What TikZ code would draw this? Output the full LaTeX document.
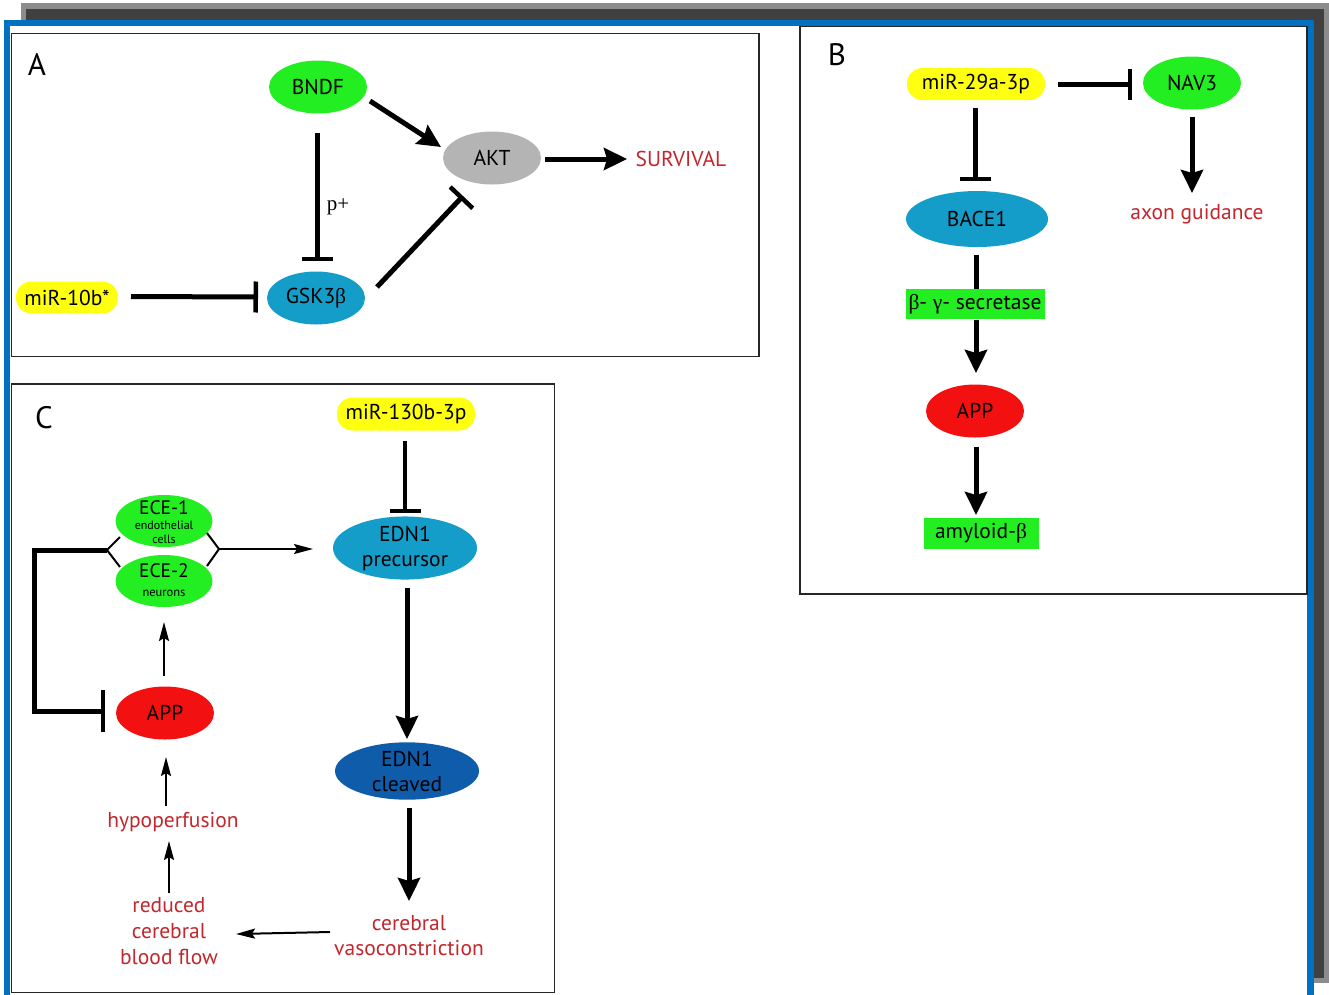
\documentclass[tikz,border=0pt]{standalone}
\usepackage{fontspec}
\setmainfont{PT Sans}
\newfontfamily\seriffont{Liberation Serif}
\newcommand{\gk}[1]{{\seriffont #1}}
\usetikzlibrary{shapes.geometric,arrows.meta}
\definecolor{frameblue}{HTML}{0070C0}
\definecolor{shadowdark}{HTML}{404040}
\definecolor{shadowlight}{HTML}{8C8C8C}
\definecolor{nodegreen}{HTML}{22EE22}
\definecolor{nodeyellow}{HTML}{FFFF10}
\definecolor{nodecyan}{HTML}{159DC9}
\definecolor{nodedarkblue}{HTML}{0E5CAA}
\definecolor{nodegray}{HTML}{B4B4B4}
\definecolor{nodered}{HTML}{F21010}
\definecolor{textred}{HTML}{C1272D}
\begin{document}
\begin{tikzpicture}[x=1pt,y=-1pt,
  ell/.style={ellipse, inner sep=0pt, minimum width=98, minimum height=53, font=\fontsize{21.5}{23}\selectfont},
  pill/.style={rectangle, rounded corners=15.5, fill=nodeyellow, inner sep=0pt, minimum height=32, font=\fontsize{21.5}{23}\selectfont},
  gbox/.style={rectangle, fill=nodegreen, inner sep=0pt, minimum height=31, font=\fontsize{21.5}{23}\selectfont},
  redtext/.style={text=textred, font=\fontsize{21.5}{25}\selectfont, align=center, inner sep=0pt},
  panel/.style={draw=black!85, line width=1.6},
  plabel/.style={font=\fontsize{31}{31}\selectfont, inner sep=0pt},
  thickarrow/.style={line width=5, -{Stealth[length=23, width=22, inset=3]}},
  thinarrow/.style={line width=2, -{Stealth[length=19, width=10, inset=3]}},
  inhib/.style={line width=5, -{Bar[width=31, line width=4.5]}},
  thinline/.style={line width=2}
]
\useasboundingbox (0,0) rectangle (1329,994);
% frame
\fill[shadowlight] (21,3) rectangle (1329,983);
\fill[shadowdark] (26,9) rectangle (1324,978);
\filldraw[draw=frameblue, line width=6.5, fill=white] (7.2,23.2) rectangle (1310.6,1010);
% panels
\draw[panel] (11.5,33.5) rectangle (759,356.5);
\draw[panel] (800,26.5) rectangle (1307,594);
\draw[panel] (11.5,384) rectangle (554.5,992.5);

% ---------- Panel A ----------
\node[plabel] (labA) at (37,64) {A};
\node[ell, fill=nodegreen] (bndf) at (318,87) {BNDF};
\node[ell, fill=nodegray] (akt) at (492,158) {AKT};
\node[ell, fill=nodecyan] (gsk) at (316,298) {GSK3\gk{β}};
\node[pill, minimum width=102] (mir10) at (67,297.5) {miR-10b*};
\node[redtext] (surv) at (681,159) {SURVIVAL};
\node[font=\seriffont\fontsize{21}{22}\selectfont, inner sep=0pt] (pplus) at (338,207) {p+};

\draw[thickarrow] ([shift={(52,14)}]bndf.center) -- ([shift={(-51,-11)}]akt.center);
\draw[thickarrow] ([shift={(53,1)}]akt.center) -- ([shift={(-54,0)}]surv.center);
\draw[inhib] ([shift={(-1,46)}]bndf.center) -- ([shift={(1,-37)}]gsk.center);
\draw[inhib] ([shift={(61,-11)}]gsk.center) -- ([shift={(-29,38)}]akt.center);
\draw[inhib] ([shift={(64,-1)}]mir10.center) -- ([shift={(-58,-1)}]gsk.center);

% ---------- Panel B ----------
\node[plabel] (labB) at (837,55) {B};
\node[pill, minimum width=138] (mir29) at (976,84) {miR-29a-3p};
\node[ell, fill=nodegreen] (nav3) at (1192,83) {NAV3};
\node[redtext] (axon) at (1197,214) {axon guidance};
\node[ell, fill=nodecyan, minimum width=142, minimum height=56] (bace) at (977,219) {BACE1};
\node[gbox, minimum width=139, minimum height=30] (secr) at (975,304) {\gk{β}- \gk{γ}- secretase};
\node[ell, fill=nodered] (appb) at (975,411) {APP};
\node[gbox, minimum width=115] (amyl) at (981,533) {amyloid-\gk{β}};

\draw[inhib] ([shift={(82,0)}]mir29.center) -- ([shift={(-60,1)}]nav3.center);
\draw[thickarrow] ([shift={(0,34)}]nav3.center) -- ([shift={(-5,-21)}]axon.center);
\draw[inhib] ([shift={(-1,24)}]mir29.center) -- ([shift={(-2,-38)}]bace.center);
\draw[line width=5] ([shift={(-1,36)}]bace.center) -- ([shift={(1,-15)}]secr.center);
\draw[thickarrow] ([shift={(1,16)}]secr.center) -- ([shift={(1,-38)}]appb.center);
\draw[thickarrow] ([shift={(1,36)}]appb.center) -- ([shift={(-5,-18)}]amyl.center);

% ---------- Panel C ----------
\node[plabel] (labC) at (44,418) {C};
\node[pill, minimum width=138, minimum height=33] (mir130) at (406,414) {miR-130b-3p};
\node[ell, fill=nodecyan, minimum width=144, minimum height=57, align=center, font=\fontsize{21.5}{25}\selectfont] (ednp) at (405,548) {EDN1\\precursor};
\node[ell, fill=nodedarkblue, minimum width=144, minimum height=57, align=center, font=\fontsize{21.5}{25}\selectfont] (ednc) at (407,771) {EDN1\\cleaved};
\node[redtext] (vaso) at (409,936) {cerebral\\vasoconstriction};
\node[redtext, font=\fontsize{21.5}{26}\selectfont] (rcbf) at (169,931) {reduced\\cerebral\\blood flow};
\node[redtext] (hypo) at (173,822) {hypoperfusion};
\node[ell, fill=nodered] (appc) at (165,713) {APP};
\node[ell, fill=nodegreen, minimum width=97, minimum height=52] (ece1) at (164,521) {};
\node[ell, fill=nodegreen, minimum width=97, minimum height=52] (ece2) at (164,581) {};
\node[inner sep=0pt, font=\fontsize{19.5}{20}\selectfont] (ece1t) at (164,508) {ECE-1};
\node[inner sep=0pt, font=\fontsize{12}{13}\selectfont] (ece1s) at (164,525) {endothelial};
\node[inner sep=0pt, font=\fontsize{12}{13}\selectfont] (ece1c) at (164,539) {cells};
\node[inner sep=0pt, font=\fontsize{19.5}{20}\selectfont] (ece2t) at (164,571) {ECE-2};
\node[inner sep=0pt, font=\fontsize{12.5}{13}\selectfont] (ece2s) at (164,593) {neurons};

\coordinate (brL) at (107,550);
\coordinate (brR) at (219,549);
\coordinate (fbL) at (34,550);
\draw[thinline] ([shift={(-44,16)}]ece1.center) -- (brL) -- ([shift={(-44,-14)}]ece2.center);
\draw[thinline] ([shift={(43,12)}]ece1.center) -- (brR) -- ([shift={(43,-15)}]ece2.center);
\draw[thinarrow] (brR) -- ([shift={(-92,1)}]ednp.center);
\draw[line width=5, -{Bar[width=42, line width=4.5]}, line join=miter] (brL) -- (fbL) |- ([shift={(-60,-2)}]appc.center);

\draw[inhib, line width=4] ([shift={(-1,27)}]mir130.center) -- ([shift={(0,-35)}]ednp.center);
\draw[thickarrow] ([shift={(2,40)}]ednp.center) -- ([shift={(0,-32)}]ednc.center);
\draw[thickarrow] ([shift={(2,37)}]ednc.center) -- ([shift={(0,-35)}]vaso.center);
\draw[thinarrow] ([shift={(-79,-4)}]vaso.center) -- ([shift={(67,3)}]rcbf.center);
\draw[thinarrow] ([shift={(0,-38)}]rcbf.center) -- ([shift={(-4,19)}]hypo.center);
\draw[thinarrow] ([shift={(-7,-16)}]hypo.center) -- ([shift={(1,44)}]appc.center);
\draw[thinarrow] ([shift={(-1,-37)}]appc.center) -- ([shift={(0,41)}]ece2.center);
\end{tikzpicture}
\end{document}
